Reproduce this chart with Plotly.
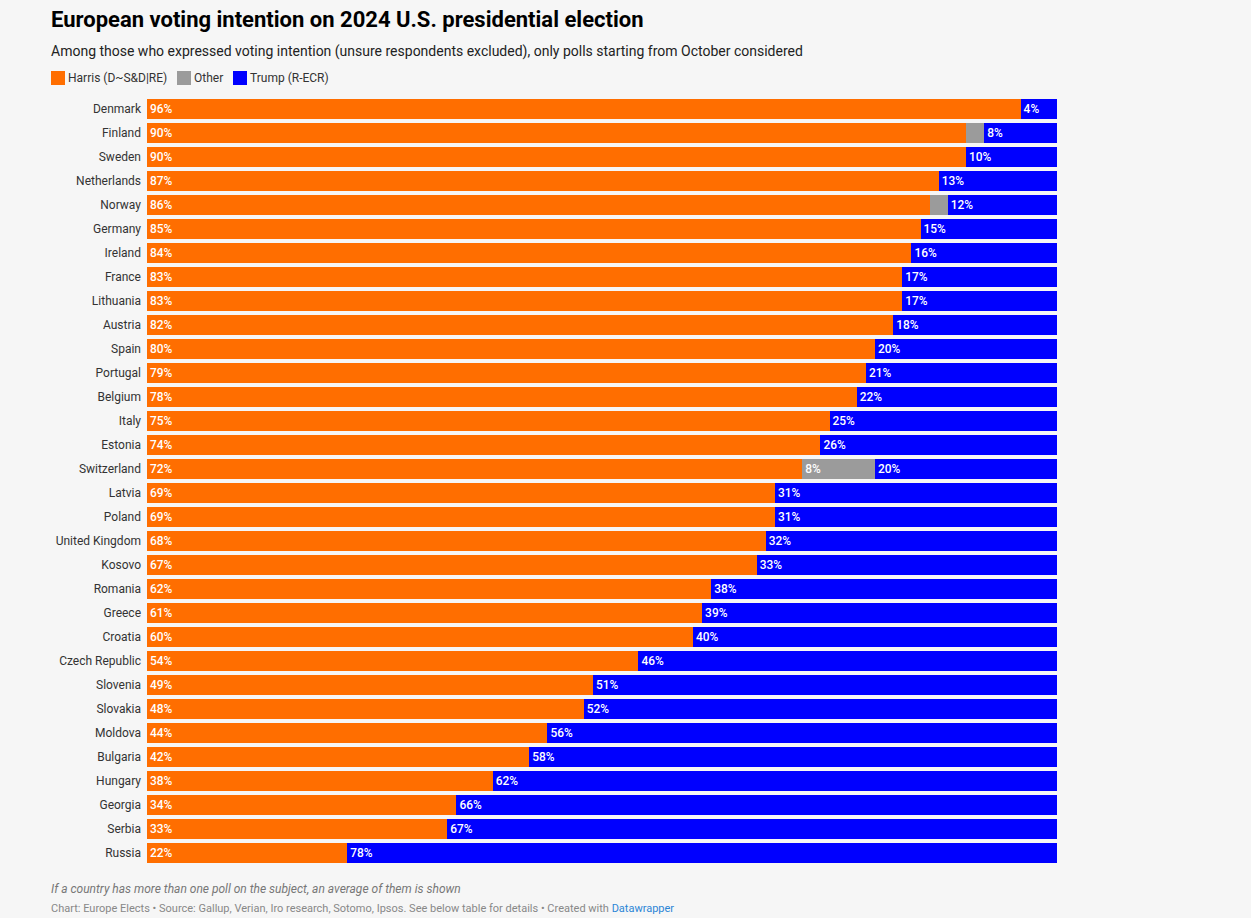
import plotly.graph_objects as go

countries = ["Denmark", "Finland", "Sweden", "Netherlands", "Norway", "Germany", "Ireland",
             "France", "Lithuania", "Austria", "Spain", "Portugal", "Belgium", "Italy",
             "Estonia", "Switzerland", "Latvia", "Poland", "United Kingdom", "Kosovo",
             "Romania", "Greece", "Croatia", "Czech Republic", "Slovenia", "Slovakia",
             "Moldova", "Bulgaria", "Hungary", "Georgia", "Serbia", "Russia"]
harris = [96, 90, 90, 87, 86, 85, 84, 83, 83, 82, 80, 79, 78, 75, 74, 72,
          69, 69, 68, 67, 62, 61, 60, 54, 49, 48, 44, 42, 38, 34, 33, 22]
other = [0, 2, 0, 0, 2, 0, 0, 0, 0, 0, 0, 0, 0, 0, 0, 8,
         0, 0, 0, 0, 0, 0, 0, 0, 0, 0, 0, 0, 0, 0, 0, 0]
trump = [4, 8, 10, 13, 12, 15, 16, 17, 17, 18, 20, 21, 22, 25, 26, 20,
         31, 31, 32, 33, 38, 39, 40, 46, 51, 52, 56, 58, 62, 66, 67, 78]

series_names = ["Harris (D~S&D|RE)", "Other", "Trump (R-ECR)"]
series_colors = ["#ff6e00", "#9b9b9b", "#0000ff"]
series_values = [harris, other, trump]

BG = "#f6f6f6"
FONT = "Roboto"
W, H = 1251, 918
ML, MR, MT, MB = 147, 194, 97, 53
PW, PH = W - ML - MR, H - MT - MB


def px_x(px):
    return (px - ML) / PW


def px_y(py):
    return (H - MB - py) / PH


fig = go.Figure()
for name, vals, color in zip(series_names, series_values, series_colors):
    labels = [f"{v}%" if v >= 4 else "" for v in vals]
    fig.add_trace(go.Bar(
        y=countries, x=vals, name=name, orientation="h",
        marker=dict(color=color, line=dict(width=0)),
        text=labels, textposition="inside", insidetextanchor="start",
        textangle=0,
        textfont=dict(family=FONT, size=12, color="white", weight=500),
        hoverinfo="skip", showlegend=False,
    ))

shapes = []
annotations = [
    dict(text="<b>European voting intention on 2024 U.S. presidential election</b>",
         x=px_x(49), y=px_y(19.5), font=dict(family=FONT, size=22, color="#000000")),
    dict(text="Among those who expressed voting intention (unsure respondents excluded), only polls starting from October considered",
         x=px_x(49), y=px_y(51), font=dict(family=FONT, size=14, color="#222222")),
    dict(text="<i>If a country has more than one poll on the subject, an average of them is shown</i>",
         x=px_x(49), y=px_y(889), font=dict(family=FONT, size=12, color="#777777")),
    dict(text="Chart: Europe Elects • Source: Gallup, Verian, Iro research, Sotomo, Ipsos. See below table for details • Created with <span style='color:#2c86d6'>Datawrapper</span>",
         x=px_x(49), y=px_y(908), font=dict(family=FONT, size=11, color="#888888")),
]

legend_x = [51, 177, 233]
for lx, name, color in zip(legend_x, series_names, series_colors):
    shapes.append(dict(type="rect", xref="paper", yref="paper",
                       x0=px_x(lx), x1=px_x(lx + 14), y0=px_y(85), y1=px_y(71),
                       fillcolor=color, line=dict(width=0)))
    annotations.append(dict(text=name, x=px_x(lx + 15), y=px_y(78),
                            font=dict(family=FONT, size=12, color="#333333")))

for a in annotations:
    a.update(xref="paper", yref="paper", xanchor="left", yanchor="middle", showarrow=False)

fig.update_layout(
    barmode="stack",
    bargap=0.17,
    width=W, height=H,
    margin=dict(l=ML, r=MR, t=MT, b=MB, autoexpand=False),
    paper_bgcolor=BG, plot_bgcolor=BG,
    font=dict(family=FONT, size=12, color="#333333"),
    showlegend=False,
    xaxis=dict(range=[0, 100], visible=False, fixedrange=True),
    yaxis=dict(autorange="reversed", showgrid=False, zeroline=False, ticks="",
               ticklabelstandoff=5, fixedrange=True,
               tickfont=dict(family=FONT, size=12, color="#333333")),
    shapes=shapes,
    annotations=annotations,
)

fig.write_html("out.html", config={"displayModeBar": False},
               post_script="document.body.style.margin='0px';document.body.style.background='" + BG + "';")
